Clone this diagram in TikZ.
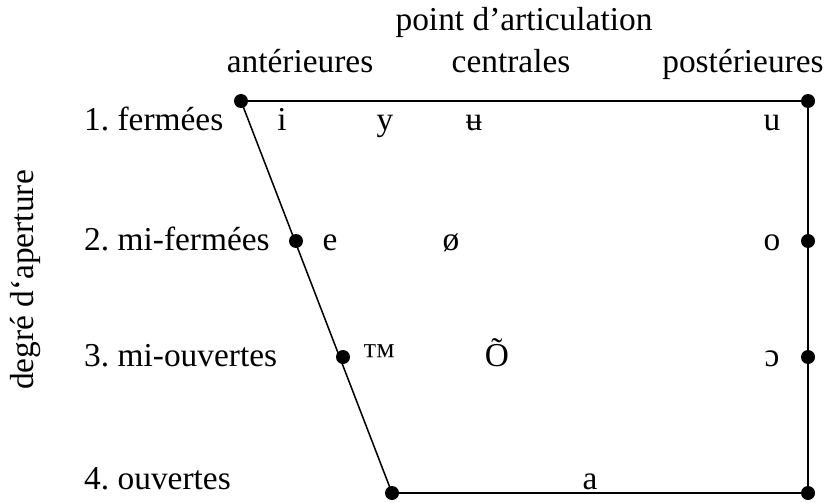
\documentclass[tikz,border=0pt]{standalone}
\usepackage{fontspec}
\setmainfont{Liberation Serif}
\frenchspacing

\begin{document}
\begin{tikzpicture}[
    x=0.03cm, y=-0.03cm,
    lbl/.style={inner sep=0pt, anchor=base, font=\fontsize{28.5}{32}\selectfont},
    deg/.style={lbl, anchor=base west},
    vow/.style={lbl},
    dot/.style={circle, fill=black, inner sep=0pt, minimum size=0.42cm},
    edge/.style={line width=1.3pt}
]
    \useasboundingbox (0,0) rectangle (829,503);

    % coins du trapeze
    \node[dot] (tl) at (241,101) {};
    \node[dot] (tr) at (808,101) {};
    \node[dot] (bl) at (392,493) {};
    \node[dot] (br) at (808,493) {};

    % points intermediaires
    \node[dot] (ml) at (296,241) {};
    \node[dot] (mr) at (808,241) {};
    \node[dot] (ol) at (343,357) {};
    \node[dot] (or) at (808,357) {};

    % contour
    \draw[edge] (tl.center) -- (tr.center) -- (br.center) -- (bl.center) -- (tl.center);

    % titres
    \node[lbl] (art)  at (524,30) {point d’articulation};
    \node[lbl] (ant)  at (300,72) {antérieures};
    \node[lbl] (cen)  at (511,72) {centrales};
    \node[lbl] (post) at (743,72) {postérieures};

    \node[lbl, anchor=center, rotate=90] (ape) at (25,280) {degré d‘aperture};

    % degres, alignes a gauche
    \node[deg] (d1) at (84,130) {1. fermées};
    \node[deg] (d2) at (84,250) {2. mi-fermées};
    \node[deg] (d3) at (84,366) {3. mi-ouvertes};
    \node[deg] (d4) at (84,489) {4. ouvertes};

    % voyelles
    \node[vow] (vi)  at (282,130) {i};
    \node[vow] (vy)  at (385,130) {y};
    \node[vow] (vu1) at (474,130) {ʉ};
    \node[vow] (vu)  at (772,130) {u};
    \node[vow] (ve)  at (330,250) {e};
    \node[vow] (voe) at (451,250) {ø};
    \node[vow] (vo)  at (772,250) {o};
    \node[vow] (veps) at (379,366) {™};
    \node[vow] (voc) at (497,366) {Õ};
    \node[vow] (vc)  at (772,366) {ɔ};
    \node[vow] (va)  at (590,489) {a};

\end{tikzpicture}
\end{document}
